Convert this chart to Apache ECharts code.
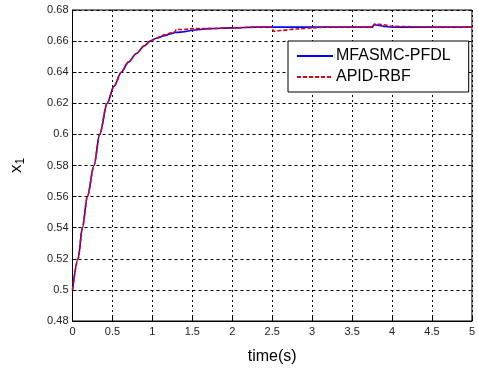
<!DOCTYPE html>
<html>
<head>
<meta charset="utf-8">
<script src="https://cdn.jsdelivr.net/npm/echarts@6/dist/echarts.min.js"></script>
<style>html,body{margin:0;padding:0;background:#fff}#c{width:478px;height:370px}</style>
</head>
<body>
<div id="c"></div>
<script>
var times = [0, 0.07, 0.124, 0.186, 0.269, 0.34, 0.434, 0.52, 0.61, 0.70, 0.80, 0.90, 0.97, 1.05, 1.15, 1.25, 1.28, 1.30, 1.40, 1.50, 1.70, 2.00, 2.30, 2.49, 2.52, 2.60, 2.80, 3.00, 3.20, 3.50, 3.75, 3.78, 3.90, 4.00, 4.50, 5.00];
var blueValues = [0.500, 0.520, 0.540, 0.560, 0.580, 0.600, 0.620, 0.631, 0.640, 0.6465, 0.652, 0.657, 0.660, 0.6618, 0.6635, 0.665, 0.6655, 0.6656, 0.666, 0.667, 0.668, 0.6685, 0.669, 0.669, 0.669, 0.669, 0.669, 0.669, 0.669, 0.669, 0.669, 0.6705, 0.6695, 0.669, 0.669, 0.669];
var redValues = [0.500, 0.520, 0.540, 0.560, 0.580, 0.600, 0.620, 0.631, 0.640, 0.6465, 0.652, 0.657, 0.660, 0.662, 0.664, 0.6655, 0.6658, 0.6675, 0.6675, 0.668, 0.668, 0.6685, 0.669, 0.669, 0.6663, 0.6668, 0.6678, 0.6685, 0.669, 0.669, 0.669, 0.671, 0.6705, 0.6695, 0.669, 0.669];
var seriesNames = ['MFASMC-PFDL', 'APID-RBF'];
var xLabel = 'time(s)';

function pairs(vals){ return times.map(function(t,i){ return [t, vals[i]]; }); }
var chart = echarts.init(document.getElementById('c'), null, {renderer:'canvas'});
var font = 'Liberation Sans, Arial, sans-serif';
function fmt(v){ return String(parseFloat(v.toFixed(2))); }
chart.setOption({
  animation: false,
  backgroundColor: '#fff',
  grid: {left: 71, right: 4, top: 10, bottom: 43, show: true, borderColor: '#000', borderWidth: 1, backgroundColor: '#fff'},
  legend: {
    orient: 'vertical', left: 288, top: 41,
    backgroundColor: '#fff', borderColor: '#000', borderWidth: 1,
    padding: [7, 18, 7, 8], itemGap: 5, itemWidth: 36, itemHeight: 14,
    itemStyle: {opacity: 0},
    textStyle: {fontFamily: font, fontSize: 16, color: '#000', padding: [0,0,0,-2]},
    data: seriesNames
  },
  xAxis: {
    type: 'value', min: 0, max: 5, interval: 0.5,
    name: xLabel, nameLocation: 'middle', nameGap: 28,
    nameTextStyle: {fontFamily: font, fontSize: 16, color: '#000'},
    axisLine: {show: true, lineStyle: {color: '#000'}},
    axisTick: {show: true, inside: true, length: 4, lineStyle: {color: '#000'}},
    axisLabel: {fontFamily: font, fontSize: 11, color: '#222', margin: 5, formatter: fmt},
    splitLine: {show: true, lineStyle: {color: '#000', type: [2, 3], width: 1}}
  },
  yAxis: {
    type: 'value', min: 0.48, max: 0.68, interval: 0.02,
    name: 'x{s|1}', nameLocation: 'middle', nameGap: 46, nameRotate: 90,
    nameTextStyle: {fontFamily: font, fontSize: 17, color: '#000', rich: {s: {fontFamily: font, fontSize: 12, color: '#000', verticalAlign: 'bottom', padding: [8,0,0,0]}}},
    axisLine: {show: true, lineStyle: {color: '#000'}},
    axisTick: {show: true, inside: true, length: 4, lineStyle: {color: '#000'}},
    axisLabel: {fontFamily: font, fontSize: 11, color: '#222', margin: 4, formatter: fmt},
    splitLine: {show: true, lineStyle: {color: '#000', type: [3, 3], width: 1}}
  },
  series: [
    {name: seriesNames[0], type: 'line', data: pairs(blueValues), symbol: 'none', smooth: 0.3, smoothMonotone: 'x',
     lineStyle: {color: '#0000ff', width: 1.6}, itemStyle: {color: '#0000ff'}},
    {name: seriesNames[1], type: 'line', data: pairs(redValues), symbol: 'none', smooth: 0.3, smoothMonotone: 'x',
     lineStyle: {color: '#e00010', width: 1.6, type: [4, 2]}, itemStyle: {color: '#e00010'}}
  ]
});
</script>
</body>
</html>
